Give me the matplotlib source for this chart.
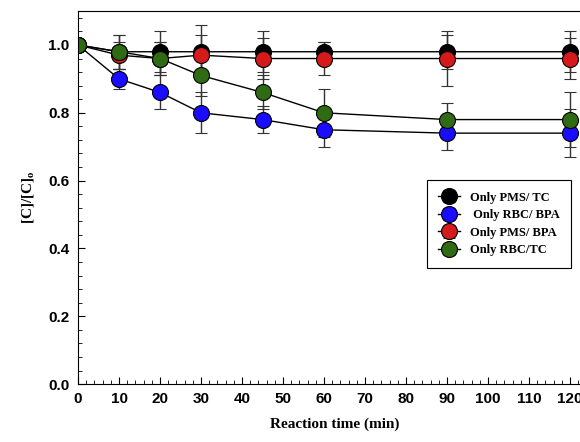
import matplotlib
import matplotlib.pyplot as plt
from matplotlib.ticker import MultipleLocator

matplotlib.use("Agg", force=True)

# reaction time (min)
time_min = [0, 10, 20, 30, 45, 60, 90, 120]

# [C]/[C]o for each run, with error bars
pms_tc = [1.00, 0.98, 0.98, 0.98, 0.98, 0.98, 0.98, 0.98]
pms_tc_err = [0.0, 0.05, 0.06, 0.08, 0.06, 0.03, 0.05, 0.06]
rbc_bpa = [1.00, 0.90, 0.86, 0.80, 0.78, 0.75, 0.74, 0.74]
rbc_bpa_err = [0.0, 0.03, 0.05, 0.06, 0.04, 0.05, 0.05, 0.07]
pms_bpa = [1.00, 0.97, 0.96, 0.97, 0.96, 0.96, 0.96, 0.96]
pms_bpa_err = [0.0, 0.04, 0.05, 0.06, 0.06, 0.05, 0.08, 0.06]
rbc_tc = [1.00, 0.98, 0.96, 0.91, 0.86, 0.80, 0.78, 0.78]
rbc_tc_err = [0.0, 0.05, 0.05, 0.06, 0.05, 0.07, 0.05, 0.08]

SERIES = [
    ("Only PMS/ TC", pms_tc, pms_tc_err, "#000000"),
    (" Only RBC/ BPA", rbc_bpa, rbc_bpa_err, "#1a0dff"),
    ("Only PMS/ BPA", pms_bpa, pms_bpa_err, "#d41a1a"),
    ("Only RBC/TC", rbc_tc, rbc_tc_err, "#2e6b12"),
]

fig = plt.figure(figsize=(5.8, 4.42), dpi=100)
ax = fig.add_axes([0.1345, 0.131, 0.8836, 0.844])

for label, values, err, color in SERIES:
    ax.errorbar(
        time_min, values, yerr=err, color="black", linewidth=1.0,
        ecolor="#333333", elinewidth=1.0, capsize=4, capthick=1.0,
        marker="o", markersize=11.5, markerfacecolor=color,
        markeredgecolor="black", markeredgewidth=0.8, label=label,
    )

ax.set_xlim(0, 125)
ax.set_ylim(0, 1.1)
ax.xaxis.set_major_locator(MultipleLocator(10))
ax.xaxis.set_minor_locator(MultipleLocator(2))
ax.yaxis.set_major_locator(MultipleLocator(0.2))
ax.yaxis.set_minor_locator(MultipleLocator(0.04))
ax.tick_params(which="both", direction="in", top=False, right=False)
ax.tick_params(which="major", length=5, labelsize=11, pad=6)
ax.tick_params(which="minor", length=3)
ax.set_yticks([0, 0.2, 0.4, 0.6, 0.8, 1.0])
ax.set_yticklabels(["0.0", "0.2", "0.4", "0.6", "0.8", "1.0"])
for lbl in ax.get_xticklabels() + ax.get_yticklabels():
    lbl.set_fontfamily("Liberation Sans")
    lbl.set_fontweight("bold")

ax.set_xlabel("Reaction time (min)", fontfamily="Liberation Serif",
              fontweight="bold", fontsize=11, labelpad=8)
ax.set_ylabel("[C]/[C]$_\\mathregular{o}$", fontfamily="Liberation Serif",
              fontweight="bold", fontsize=11, labelpad=8)

leg = ax.legend(
    loc="upper left", bbox_to_anchor=(0.668, 0.563), fancybox=False,
    edgecolor="black", framealpha=1, handlelength=1.8, borderpad=0.9,
    labelspacing=0.45, prop={"family": "Liberation Serif", "weight": "bold", "size": 9},
)
leg.get_frame().set_linewidth(0.8)

fig.savefig("out.png", dpi=100)
